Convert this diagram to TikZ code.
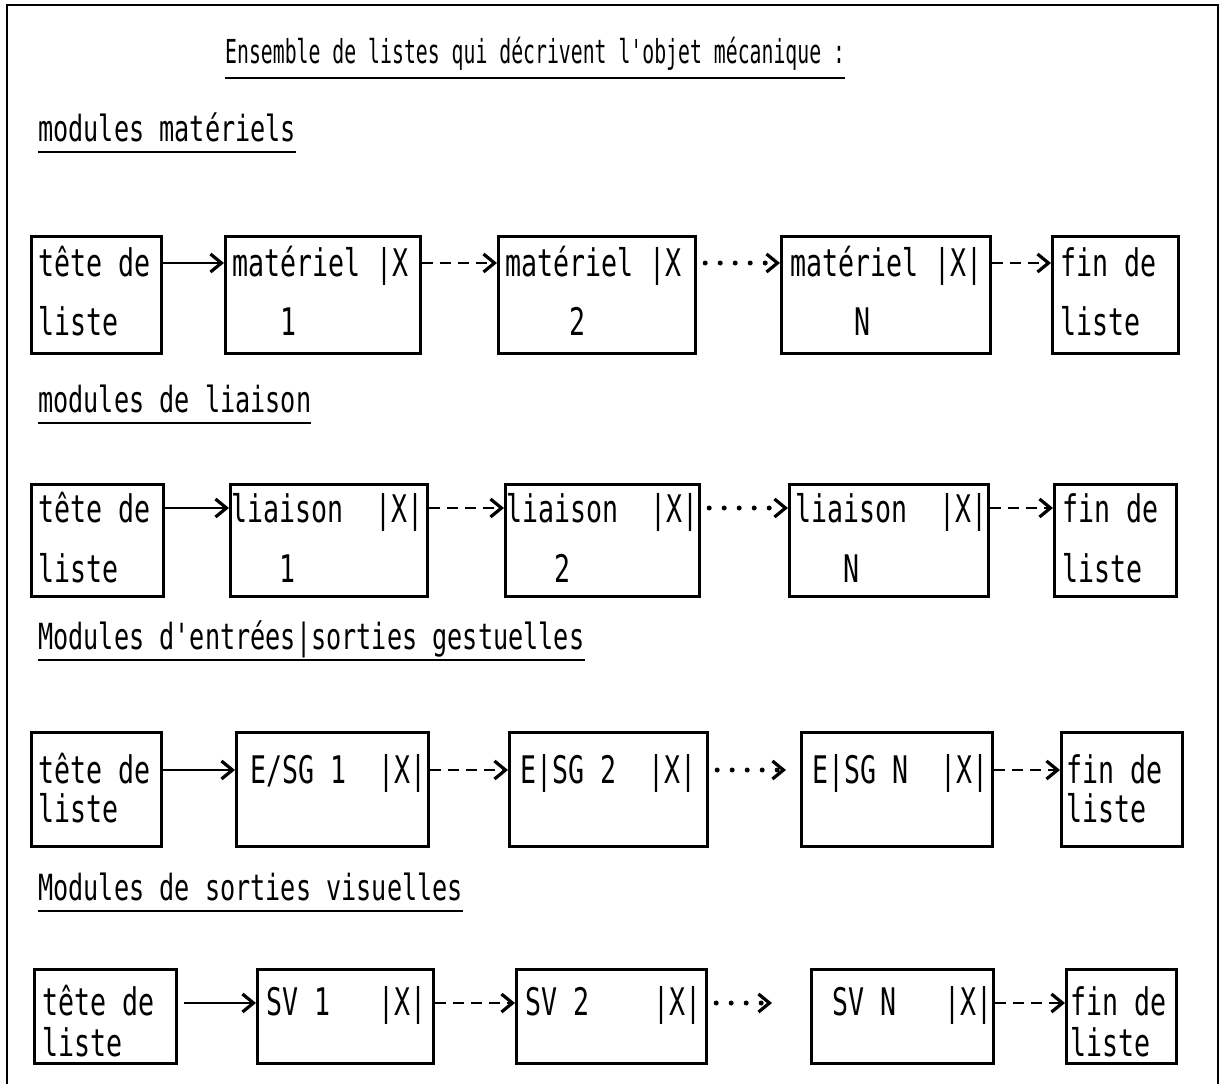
\documentclass[tikz,border=0pt]{standalone}
\usepackage{fontspec}
\usetikzlibrary{arrows.meta,calc}
\newfontfamily\tw[FakeStretch=0.7]{DejaVu Sans Mono}
\newfontfamily\twt[FakeStretch=0.6]{DejaVu Sans Mono}
\tikzset{
  bx/.style={draw, line width=3.2pt, inner sep=0pt, anchor=north west},
  tb/.style={font=\tw\fontsize{38}{44}\selectfont, inner sep=0pt, anchor=base west},
  hd/.style={font=\tw\fontsize{36}{42}\selectfont, inner sep=0pt, anchor=base west},
  ttl/.style={font=\twt\fontsize{33}{38}\selectfont, inner sep=0pt, anchor=base west},
  ul/.style={line width=2.2pt},
  frame/.style={line width=2pt},
  sarr/.style={line width=2.6pt, -{Straight Barb[length=11pt,width=18pt,line width=3.2pt]}},
  darr/.style={sarr, dash pattern=on 11pt off 7pt},
  oarr/.style={line width=5pt, line cap=round, dash pattern=on 0pt off 15pt, dash phase=-8pt, -{Straight Barb[length=11pt,width=18pt,line width=3.2pt]}}
}
\begin{document}
\begin{tikzpicture}[x=1pt,y=-1pt]
\fill[white] (0,0) rectangle (1220,1084);
\useasboundingbox (0,0) rectangle (1220,1084);
% frame
\coordinate (fbl) at (7,1084);
\coordinate (ftl) at (7,5);
\coordinate (ftr) at (1218,5);
\coordinate (fbr) at (1218,1084);
\draw[frame] (fbl) -- (ftl) -- (ftr) -- (fbr);

% title
\node[ttl] (title) at (225,63) {Ensemble de listes qui décrivent l'objet mécanique :};
\draw[ul] ([yshift=-15pt]title.base west) -- ([yshift=-15pt]title.base east);

% ---------------- Row 1
\node[hd] (h1) at (38,141) {modules matériels};
\draw[ul] ([yshift=-11pt]h1.base west) -- ([yshift=-11pt]h1.base east);
\node[bx, minimum width=130pt, minimum height=117pt] (r1a) at (30,235) {};
\node[bx, minimum width=195pt, minimum height=117pt] (r1b) at (224,235) {};
\node[bx, minimum width=197pt, minimum height=117pt] (r1c) at (497,235) {};
\node[bx, minimum width=209pt, minimum height=117pt] (r1d) at (780,235) {};
\node[bx, minimum width=126pt, minimum height=117pt] (r1e) at (1051,235) {};
\node[tb] (r1a1) at (38,276) {tête de};
\node[tb] (r1a2) at (38,335) {liste};
\node[tb] (r1b1) at (232,276) {matériel~|X};
\node[tb] (r1b2) at (232,335) {~~~1};
\node[tb] (r1c1) at (505,276) {matériel~|X};
\node[tb] (r1c2) at (505,335) {~~~~2};
\node[tb] (r1d1) at (790,276) {matériel~|X|};
\node[tb] (r1d2) at (790,335) {~~~~N};
\node[tb] (r1e1) at (1060,276) {fin~de};
\node[tb] (r1e2) at (1060,335) {liste};
\coordinate (r1y) at (0,263);
\draw[sarr] (r1y -| r1a.east) -- (r1y -| r1b.west);
\draw[darr] (r1y -| r1b.east) -- (r1y -| r1c.west);
\draw[oarr] (r1y -| r1c.east) -- (r1y -| r1d.west);
\draw[darr] (r1y -| r1d.east) -- (r1y -| r1e.west);

% ---------------- Row 2
\node[hd] (h2) at (38,412) {modules de liaison};
\draw[ul] ([yshift=-11pt]h2.base west) -- ([yshift=-11pt]h2.base east);
\node[bx, minimum width=132pt, minimum height=112pt] (r2a) at (30,483) {};
\node[bx, minimum width=197pt, minimum height=112pt] (r2b) at (229,483) {};
\node[bx, minimum width=194pt, minimum height=112pt] (r2c) at (504,483) {};
\node[bx, minimum width=199pt, minimum height=112pt] (r2d) at (788,483) {};
\node[bx, minimum width=122pt, minimum height=112pt] (r2e) at (1053,483) {};
\node[tb] (r2a1) at (38,522) {tête de};
\node[tb] (r2a2) at (38,582) {liste};
\node[tb] (r2b1) at (231,522) {liaison~~|X|};
\node[tb] (r2b2) at (231,582) {~~~1};
\node[tb] (r2c1) at (506,522) {liaison~~|X|};
\node[tb] (r2c2) at (506,582) {~~~2};
\node[tb] (r2d1) at (795,522) {liaison~~|X|};
\node[tb] (r2d2) at (795,582) {~~~N};
\node[tb] (r2e1) at (1062,522) {fin~de};
\node[tb] (r2e2) at (1062,582) {liste};
\coordinate (r2y) at (0,508);
\draw[sarr] (r2y -| r2a.east) -- (r2y -| r2b.west);
\draw[darr] (r2y -| r2b.east) -- (r2y -| r2c.west);
\draw[oarr] (r2y -| r2c.east) -- (r2y -| r2d.west);
\draw[darr] (r2y -| r2d.east) -- (r2y -| r2e.west);

% ---------------- Row 3
\node[hd] (h3) at (38,649) {Modules d'entrées|sorties gestuelles};
\draw[ul] ([yshift=-11pt]h3.base west) -- ([yshift=-11pt]h3.base east);
\node[bx, minimum width=130pt, minimum height=114pt] (r3a) at (30,731) {};
\node[bx, minimum width=192pt, minimum height=114pt] (r3b) at (235,731) {};
\node[bx, minimum width=198pt, minimum height=114pt] (r3c) at (508,731) {};
\node[bx, minimum width=191pt, minimum height=114pt] (r3d) at (800,731) {};
\node[bx, minimum width=121pt, minimum height=114pt] (r3e) at (1060,731) {};
\node[tb] (r3a1) at (38,783) {tête de};
\node[tb] (r3a2) at (38,822) {liste};
\node[tb] (r3b1) at (250,783) {E/SG~1~~|X|};
\node[tb] (r3c1) at (520,783) {E|SG~2~~|X|};
\node[tb] (r3d1) at (812,783) {E|SG~N~~|X|};
\node[tb] (r3e1) at (1066,783) {fin~de};
\node[tb] (r3e2) at (1066,822) {liste};
\coordinate (r3y) at (0,770);
\coordinate (r3t) at (786,770);
\draw[sarr] (r3y -| r3a.east) -- (r3y -| r3b.west);
\draw[darr] (r3y -| r3b.east) -- (r3y -| r3c.west);
\draw[oarr] (r3y -| r3c.east) -- (r3t);
\draw[darr] (r3y -| r3d.east) -- (r3y -| r3e.west);

% ---------------- Row 4
\node[hd] (h4) at (38,900) {Modules de sorties visuelles};
\draw[ul] ([yshift=-11pt]h4.base west) -- ([yshift=-11pt]h4.base east);
\node[bx, minimum width=142pt, minimum height=94pt] (r4a) at (33,968) {};
\node[bx, minimum width=176pt, minimum height=94pt] (r4b) at (256,968) {};
\node[bx, minimum width=190pt, minimum height=94pt] (r4c) at (515,968) {};
\node[bx, minimum width=182pt, minimum height=94pt] (r4d) at (810,968) {};
\node[bx, minimum width=110pt, minimum height=94pt] (r4e) at (1065,968) {};
\node[tb] (r4a1) at (42,1015) {tête de};
\node[tb] (r4a2) at (42,1056) {liste};
\node[tb] (r4b1) at (266,1015) {SV~1~~~|X|};
\node[tb] (r4c1) at (525,1015) {SV~2~~~~|X|};
\node[tb] (r4d1) at (832,1015) {SV~N~~~|X|};
\node[tb] (r4e1) at (1070,1015) {fin~de};
\node[tb] (r4e2) at (1070,1056) {liste};
\coordinate (r4y) at (0,1003);
\coordinate (r4s) at (184,1003);
\coordinate (r4t) at (772,1003);
\draw[sarr] (r4s) -- (r4y -| r4b.west);
\draw[darr] (r4y -| r4b.east) -- (r4y -| r4c.west);
\draw[oarr] (r4y -| r4c.east) -- (r4t);
\draw[darr] (r4y -| r4d.east) -- (r4y -| r4e.west);
\end{tikzpicture}
\end{document}
